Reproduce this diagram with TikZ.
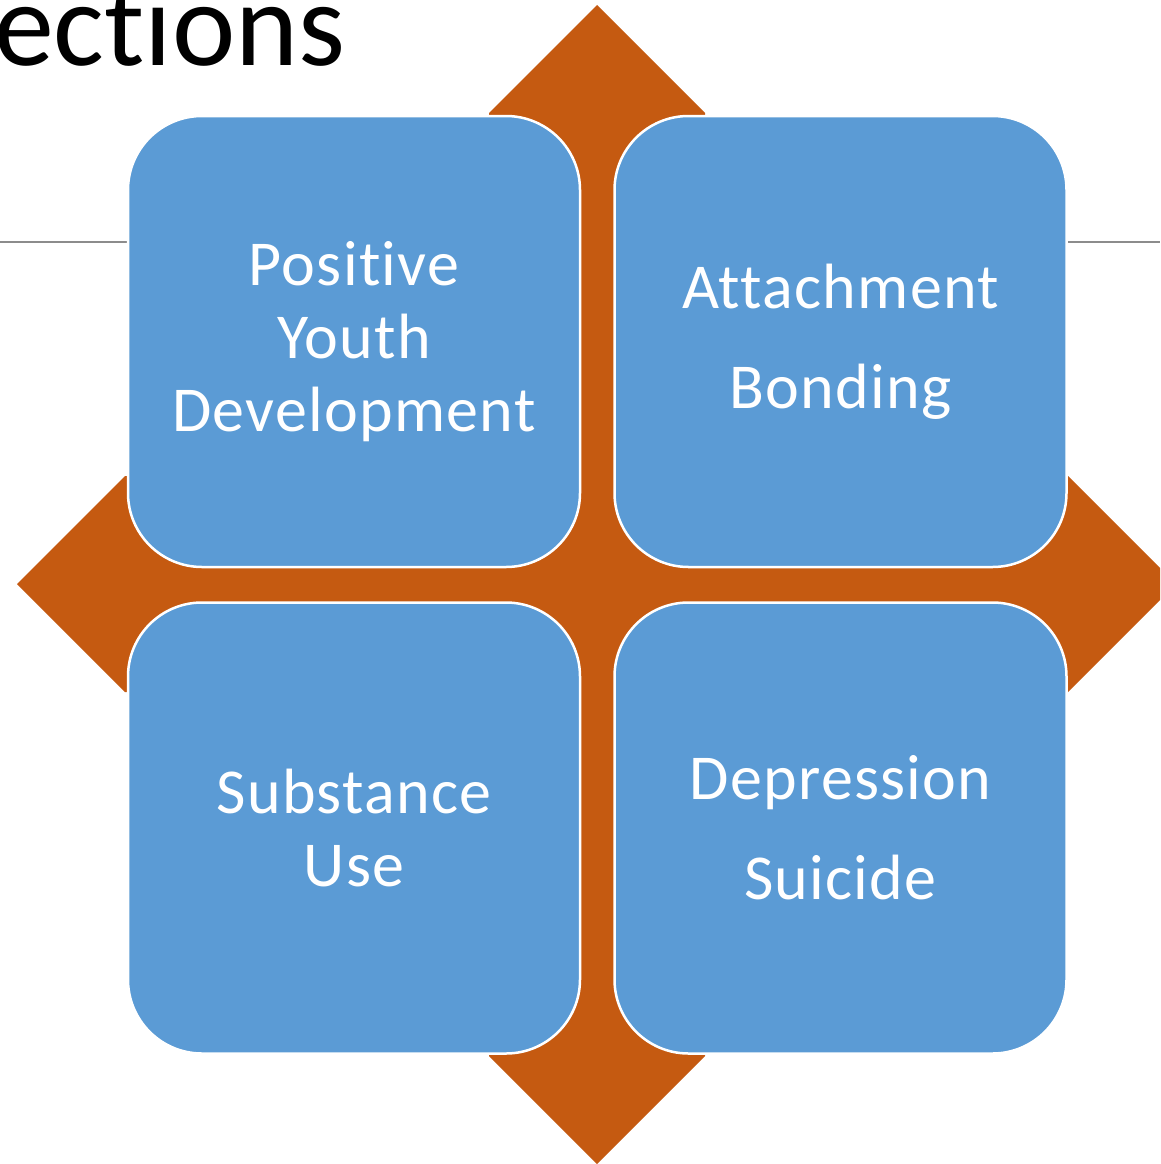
\documentclass[tikz,border=0pt]{standalone}
\usepackage{fontspec}
\setmainfont{Carlito}[Ligatures=NoCommon]
\newfontfamily\quadfont{Carlito}[Ligatures=NoCommon, LetterSpace=2.0]
\usetikzlibrary{positioning}
\definecolor{quadblue}{HTML}{5B9BD5}
\definecolor{crossorange}{HTML}{C55A11}
\definecolor{rulegrey}{HTML}{8C8C8C}

\begin{document}
\begin{tikzpicture}[
    x=1pt, y=-1pt, % pixel-like units
    quad/.style={draw=white, line width=2.5pt, fill=quadblue, rounded corners=74pt, minimum width=452pt, minimum height=451pt, inner sep=0pt, text=white, align=center, font=\quadfont\fontsize{64}{73}\selectfont}, % blue box
    heading/.style={anchor=base west, inner sep=0pt, font=\fontsize{120}{144}\selectfont} % slide title
]
\useasboundingbox (0,0) rectangle (1160,1164);
\clip (0,0) rectangle (1160,1164);

% title and its rule
\node[heading] (title) at (-6,66) {ections};
\draw[rulegrey, line width=2pt] (0,241.5) -- (1160,241.5);

% four-way arrow behind the boxes
\fill[crossorange] (597,5) -- (705,113) -- (705,476) -- (1068,476) -- (1176,584)
    -- (1068,692) -- (705,692) -- (705,1056) -- (597,1164) -- (489,1056)
    -- (489,692) -- (125,692) -- (17,584) -- (125,476) -- (489,476) -- (489,113) -- cycle;

% boxes
\node[quad] (pyd) at (354,341.5) {Positive\\Youth\\Development};
\node[quad, right=32pt of pyd] (att) {Attachment\\[27pt]Bonding};
\node[quad, below=33pt of pyd] (sub) {Substance\\Use};
\node[quad, right=32pt of sub] (dep) {Depression\\[27pt]Suicide};
\end{tikzpicture}
\end{document}
